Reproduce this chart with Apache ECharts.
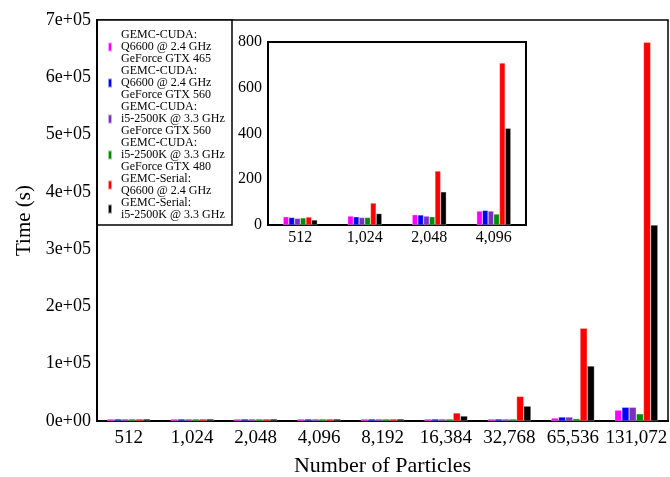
<!DOCTYPE html>
<html>
<head>
<meta charset="utf-8">
<script src="https://cdn.jsdelivr.net/npm/echarts@6/dist/echarts.min.js"></script>
<style>
    html, body { margin: 0; padding: 0; background: #fff; }
    #chart { width: 670px; height: 477px; }
</style>
</head>
<body>
<div id="chart"></div>
<script>
// 数据
var particles = ['512', '1,024', '2,048', '4,096', '8,192', '16,384', '32,768', '65,536', '131,072'];
var insetParticles = ['512', '1,024', '2,048', '4,096'];

var seriesNames = [
    'GEMC-CUDA:\nQ6600 @ 2.4 GHz\nGeForce GTX 465',
    'GEMC-CUDA:\nQ6600 @ 2.4 GHz\nGeForce GTX 560',
    'GEMC-CUDA:\ni5-2500K @ 3.3 GHz\nGeForce GTX 560',
    'GEMC-CUDA:\ni5-2500K @ 3.3 GHz\nGeForce GTX 480',
    'GEMC-Serial:\nQ6600 @ 2.4 GHz',
    'GEMC-Serial:\ni5-2500K @ 3.3 GHz'
];
var seriesColors = ['#ff00ff', '#0000ff', '#7b2fbf', '#008a00', '#ff0000', '#000000'];

// time in seconds, one array per configuration
var cuda465Q6600 = [36, 39, 45, 61, 110, 350, 1500, 5200, 19000];
var cuda560Q6600 = [33, 36, 44, 64, 120, 380, 1600, 7000, 24000];
var cuda560i5 = [29, 33, 39, 61, 115, 370, 1550, 7000, 24000];
var cuda480i5 = [31, 33, 36, 48, 95, 300, 1200, 4000, 12500];
var serialQ6600 = [35, 96, 236, 708, 2840, 14000, 43000, 162000, 661000];
var serialI5 = [22, 50, 145, 423, 1700, 8700, 26000, 96000, 342000];

var allData = [cuda465Q6600, cuda560Q6600, cuda560i5, cuda480i5, serialQ6600, serialI5];

var mainTicks = { min: 0, max: 700000, interval: 100000 };
var insetTicks = { min: 0, max: 800, interval: 200 };

var font = 'Liberation Serif';

function sciLabel(v) {
    if (v === 0) return '0e+00';
    var e = Math.floor(Math.log10(v) + 1e-9);
    var m = Math.round(v / Math.pow(10, e));
    return m + 'e+' + (e < 10 ? '0' : '') + e;
}

var series = [];
allData.forEach(function (d, i) {
    series.push({
        name: seriesNames[i],
        type: 'bar',
        xAxisIndex: 0,
        yAxisIndex: 0,
        data: d,
        barGap: '0%',
        barCategoryGap: '32%',
        barMinHeight: 2,
        itemStyle: { color: seriesColors[i], borderColor: 'rgba(255,255,255,0.6)', borderWidth: 0.5 }
    });
});
allData.forEach(function (d, i) {
    series.push({
        name: seriesNames[i],
        type: 'bar',
        xAxisIndex: 1,
        yAxisIndex: 1,
        data: d.slice(0, insetParticles.length),
        barGap: '0%',
        barCategoryGap: '47%',
        itemStyle: { color: seriesColors[i], borderColor: 'rgba(255,255,255,0.6)', borderWidth: 0.5 }
    });
});

var chart = echarts.init(document.getElementById('chart'));

chart.setOption({
    animation: false,
    backgroundColor: '#fff',
    textStyle: { fontFamily: font, color: '#000' },
    grid: [
        { left: 97, top: 20, right: 2, bottom: 56, outerBoundsMode: 'none', show: true, borderColor: '#000', borderWidth: 1.5 },
        { left: 268, top: 42, width: 258, height: 183, outerBoundsMode: 'none', show: true, borderColor: '#000', borderWidth: 2 }
    ],
    legend: {
        orient: 'vertical',
        left: 102,
        top: 24,
        itemWidth: 4,
        itemHeight: 9,
        itemGap: 0,
        icon: 'rect',
        selectedMode: false,
        data: seriesNames,
        textStyle: { fontFamily: font, fontSize: 12, lineHeight: 12, color: '#000', padding: [0, 0, 0, 4] }
    },
    graphic: [
        {
            type: 'rect',
            z: 0,
            shape: { x: 97, y: 20, width: 135, height: 205 },
            style: { fill: '#fff', stroke: '#000', lineWidth: 1.5 }
        }
    ],
    xAxis: [
        {
            type: 'category',
            gridIndex: 0,
            data: particles,
            name: 'Number of Particles',
            nameLocation: 'middle',
            nameGap: 34,
            nameTextStyle: { fontFamily: font, fontSize: 22, color: '#000' },
            axisLine: { lineStyle: { color: '#000', width: 2 } },
            axisTick: { show: false },
            axisLabel: { fontFamily: font, fontSize: 19, color: '#000', margin: 8, interval: 0 }
        },
        {
            type: 'category',
            gridIndex: 1,
            data: insetParticles,
            axisLine: { lineStyle: { color: '#000', width: 2 } },
            axisTick: { show: false },
            axisLabel: { fontFamily: font, fontSize: 16, color: '#000', margin: 5, interval: 0 }
        }
    ],
    yAxis: [
        {
            type: 'value',
            gridIndex: 0,
            min: mainTicks.min,
            max: mainTicks.max,
            interval: mainTicks.interval,
            name: 'Time (s)',
            nameLocation: 'middle',
            nameRotate: 90,
            nameGap: 61,
            nameTextStyle: { fontFamily: font, fontSize: 21, color: '#000' },
            axisLine: { show: true, lineStyle: { color: '#000', width: 2 } },
            axisTick: { show: false },
            splitLine: { show: false },
            axisLabel: { fontFamily: font, fontSize: 18, color: '#000', margin: 6, formatter: sciLabel }
        },
        {
            type: 'value',
            gridIndex: 1,
            min: insetTicks.min,
            max: insetTicks.max,
            interval: insetTicks.interval,
            axisLine: { show: true, lineStyle: { color: '#000', width: 2 } },
            axisTick: { show: false },
            splitLine: { show: false },
            axisLabel: { fontFamily: font, fontSize: 16, color: '#000', margin: 6 }
        }
    ],
    series: series
});
</script>
</body>
</html>
